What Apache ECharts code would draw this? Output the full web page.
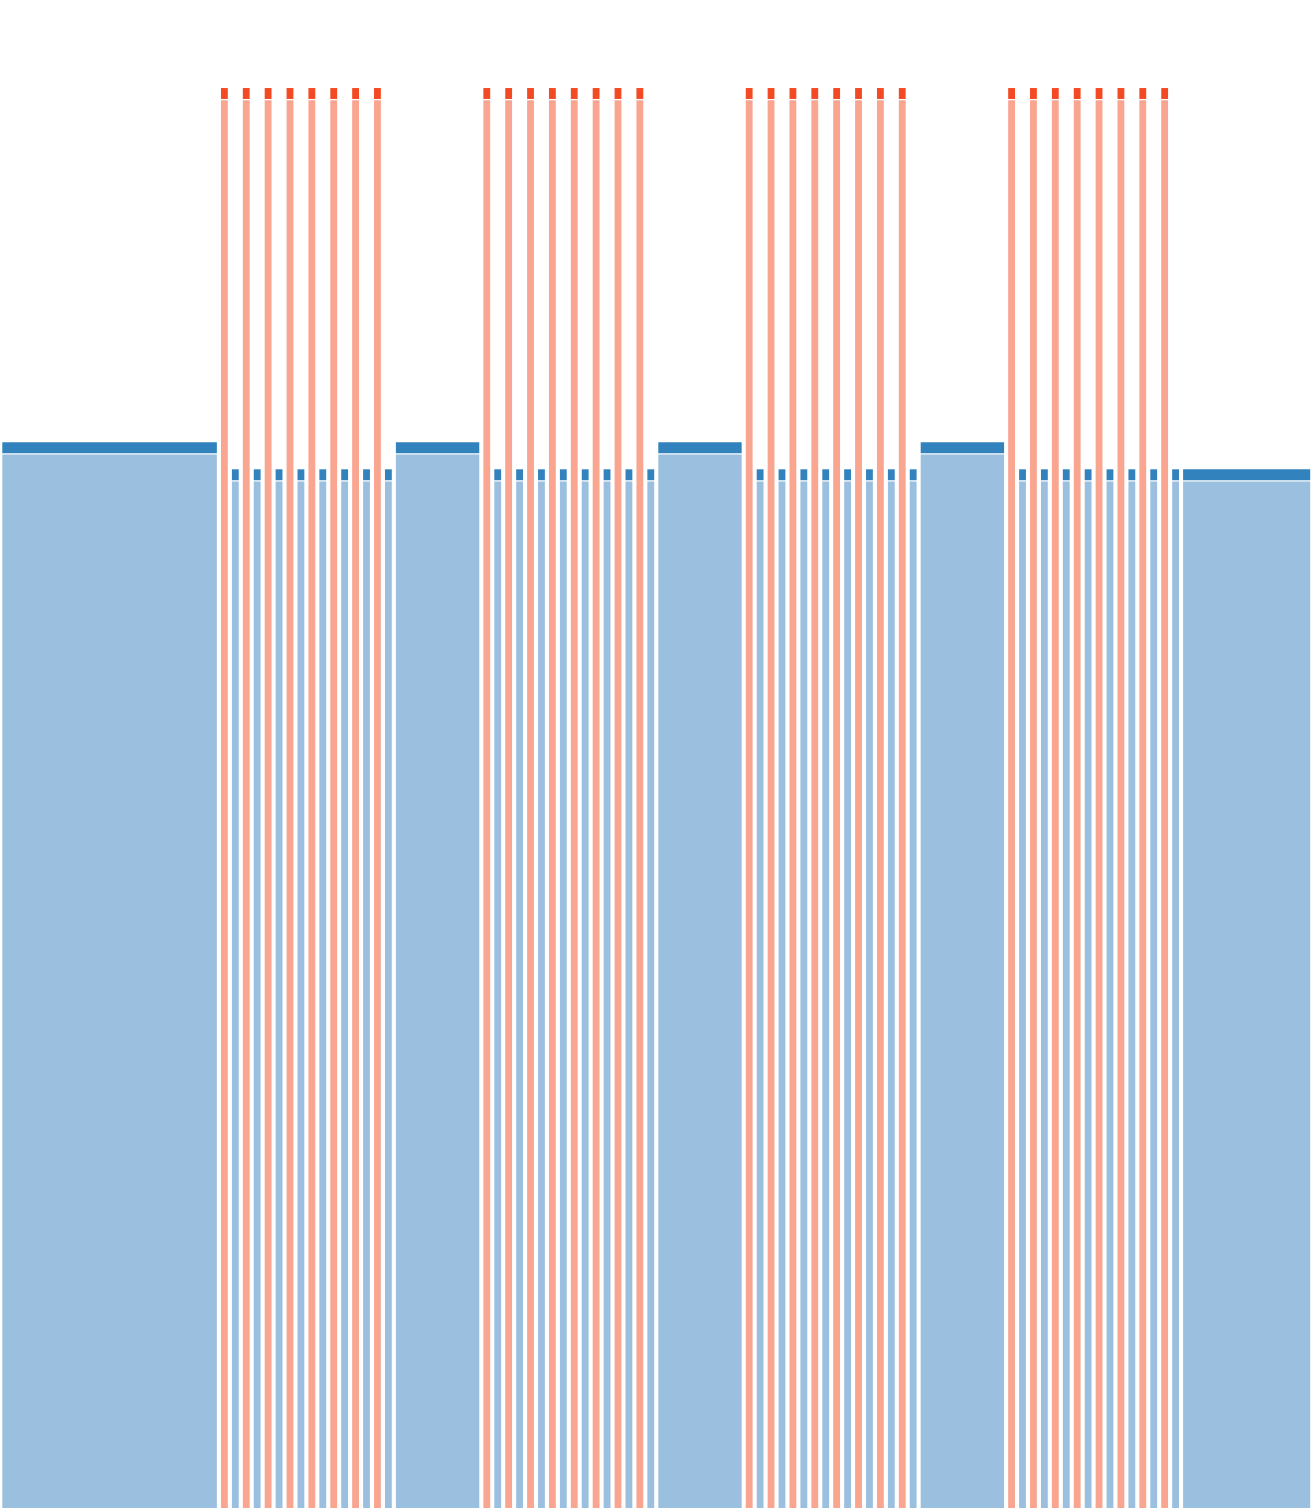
<!DOCTYPE html>
<html>
<head>
<meta charset="utf-8">
<script src="https://cdn.jsdelivr.net/npm/echarts@6/dist/echarts.min.js"></script>
<style>
  html, body { margin: 0; padding: 0; background: #fff; }
  #chart { width: 1312px; height: 1508px; }
</style>
</head>
<body>
<div id="chart"></div>
<script>
// wide blue bars, widths in x units, one before each cluster plus the last one
var wideWidths = [20, 8, 8, 8, 12];
var wideValues = [75.05, 75.05, 75.05, 75.05, 73.15];

// each cluster: 8 red / blue strip pairs, one unit wide each
var redValues = [
    [100, 100, 100, 100, 100, 100, 100, 100],
    [100, 100, 100, 100, 100, 100, 100, 100],
    [100, 100, 100, 100, 100, 100, 100, 100],
    [100, 100, 100, 100, 100, 100, 100, 100]
];
var thinBlueValues = [
    [73.15, 73.15, 73.15, 73.15, 73.15, 73.15, 73.15, 73.15],
    [73.15, 73.15, 73.15, 73.15, 73.15, 73.15, 73.15, 73.15],
    [73.15, 73.15, 73.15, 73.15, 73.15, 73.15, 73.15, 73.15],
    [73.15, 73.15, 73.15, 73.15, 73.15, 73.15, 73.15, 73.15]
];
var stripWidth = 1;
var capSize = 0.77;

var capColors = ['#3182bd', '#f34a24'];
var bodyColors = ['#9bbfdf', '#f9a590'];

// build [x0, x1, value, kind] items (kind 0 = blue, 1 = red)
var items = [];
var pos = 0;
for (var i = 0; i < wideWidths.length; i++) {
    items.push([pos, pos + wideWidths[i], wideValues[i], 0]);
    pos += wideWidths[i];
    if (i < redValues.length) {
        for (var j = 0; j < redValues[i].length; j++) {
            items.push([pos, pos + stripWidth, redValues[i][j], 1]);
            pos += stripWidth;
            items.push([pos, pos + stripWidth, thinBlueValues[i][j], 0]);
            pos += stripWidth;
        }
    }
}

function renderItem(params, api) {
    var x0 = api.value(0), x1 = api.value(1), v = api.value(2), kind = api.value(3);
    var base = api.coord([x0, 0]);
    var top = api.coord([x1, v]);
    var capBottom = api.coord([x0, v - capSize]);
    var left = base[0] + 2.3;
    var right = top[0] - 1.8;
    var bodyTop = capBottom[1] + 1.3;
    return {
        type: 'group',
        children: [{
            type: 'rect',
            shape: { x: left, y: bodyTop, width: right - left, height: base[1] - bodyTop },
            style: { fill: bodyColors[kind] }
        }, {
            type: 'rect',
            shape: { x: left, y: top[1], width: right - left, height: capBottom[1] - top[1] },
            style: { fill: capColors[kind] }
        }]
    };
}

var myChart = echarts.init(document.getElementById('chart'));
var option = {
    backgroundColor: '#fff',
    animation: false,
    grid: { left: 0, right: 0, top: 0, bottom: 0 },
    xAxis: { type: 'value', min: 0, max: pos, show: false },
    yAxis: { type: 'value', min: 0, max: 106.2, show: false },
    series: [{
        type: 'custom',
        renderItem: renderItem,
        encode: { x: [0, 1], y: 2 },
        data: items
    }]
};
myChart.setOption(option);
</script>
</body>
</html>
